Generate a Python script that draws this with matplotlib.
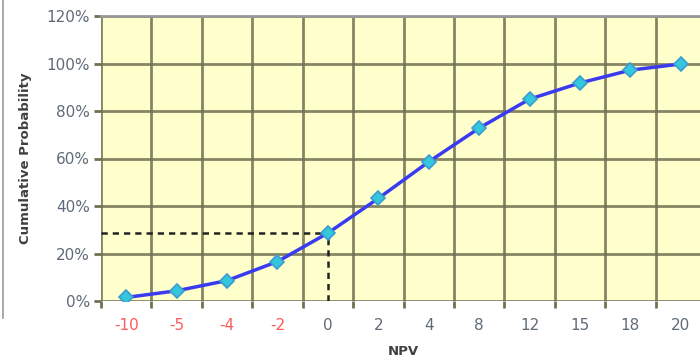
import matplotlib.pyplot as plt
from matplotlib.ticker import FixedLocator

npv = ["-10", "-5", "-4", "-2", "0", "2", "4", "8", "12", "15", "18", "20"]
cum_prob = [1.5, 4.3, 8.6, 16.6, 28.6, 43.2, 58.6, 72.8, 85.0, 91.8, 97.2, 99.8]
label_colors = ["#ff5a5a"] * 4 + ["#5f6b78"] * 8
marker_at = 28.6

fig = plt.figure(figsize=(7, 3.61), dpi=100)
ax = fig.add_axes([101 / 700, 1 - 301 / 361, 605 / 700, 285 / 361])
ax.set_facecolor("#ffffcc")

x = list(range(len(npv)))
ax.plot(x, cum_prob, color="#3a3af0", lw=2.5, marker="D", ms=7,
        mfc="#33c6dd", mec="#3a9cd0", mew=1.2, zorder=4)

# dashed guide lines at NPV = 0
i0 = npv.index("0")
ax.plot([-0.5, i0], [marker_at, marker_at], color="#222222", ls=(0, (2.5, 2)), lw=1.8, zorder=3)
ax.plot([i0, i0], [0, marker_at], color="#222222", ls=(0, (2.5, 2)), lw=1.8, zorder=3)

ax.set_xlim(-0.5, len(npv) - 0.5)
ax.set_ylim(0, 120)
ax.set_yticks(range(0, 121, 20))
ax.set_yticklabels([f"{v}%" for v in range(0, 121, 20)])
ax.set_xticks(x)
ax.set_xticklabels(npv)
for lbl, c in zip(ax.get_xticklabels(), label_colors):
    lbl.set_color(c)
ax.xaxis.set_minor_locator(FixedLocator([k - 0.5 for k in range(len(npv) + 1)]))

ax.grid(True, which="minor", axis="x", color="#707052", lw=2, alpha=0.85)
ax.grid(True, which="major", axis="y", color="#707052", lw=2, alpha=0.85)
ax.set_axisbelow(True)
ax.tick_params(axis="x", which="major", length=0, pad=12, labelsize=11)
ax.tick_params(axis="x", which="minor", length=5, width=2, color="#707052")
ax.tick_params(axis="y", length=5, width=2, color="#707052", labelsize=11,
               labelcolor="#5f6b78", pad=3)
for s in ax.spines.values():
    s.set_visible(False)
ax.spines["top"].set_visible(True)
ax.spines["top"].set_color("#999999")
ax.spines["top"].set_linewidth(2)

ax.set_xlabel("NPV", fontsize=9.5, fontweight="bold", color="#404040", labelpad=9)
ax.set_ylabel("Cumulative Probability", fontsize=9.5, fontweight="bold", color="#404040", labelpad=10)

fig.add_artist(plt.Line2D([3 / 700, 3 / 700], [1 - 318 / 361, 1], color="#999999", lw=1.2))

fig.savefig("out.png", dpi=100)
